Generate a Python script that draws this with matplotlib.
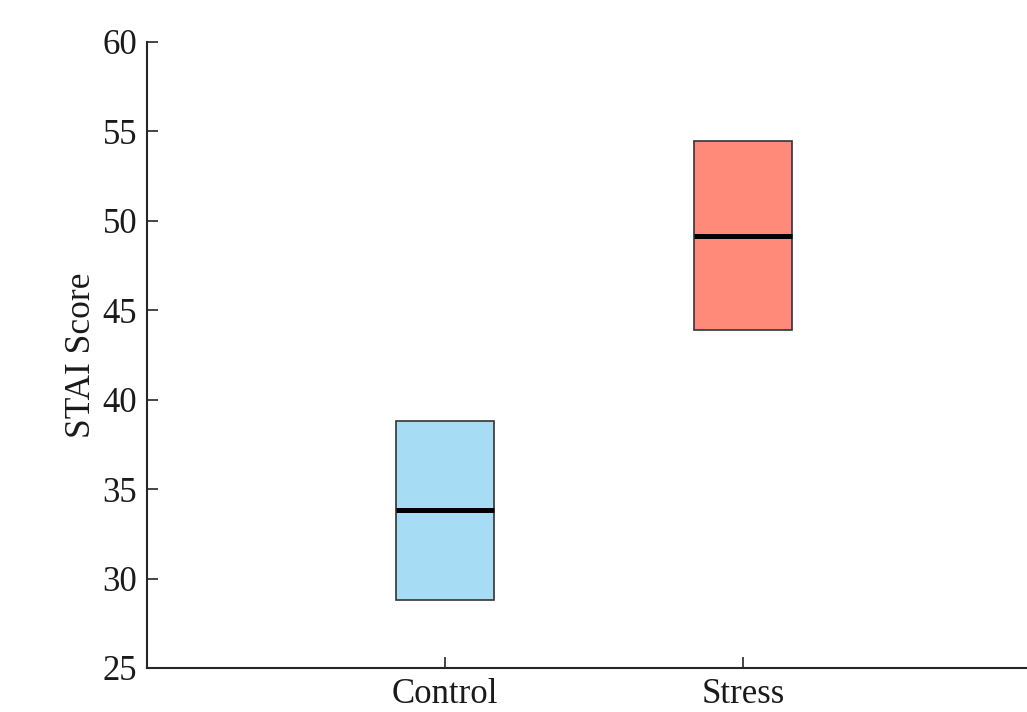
import matplotlib
matplotlib.use("Agg")
import matplotlib.pyplot as plt
from matplotlib.patches import Rectangle

groups = ["Control", "Stress"]
box_low = [28.8, 43.9]
box_high = [38.83, 54.48]
medians = [33.83, 49.17]
colors = ["#A6DDF5", "#FF8A7A"]

plt.rcParams["font.family"] = ["Liberation Serif", "DejaVu Serif"]

fig = plt.figure(figsize=(10.27, 7.12), dpi=100)
ax = fig.add_axes([147 / 1027, 44 / 712, 894 / 1027, 626 / 712])

width = 0.33
for i, g in enumerate(groups):
    x = i + 1
    ax.add_patch(Rectangle((x - width / 2, box_low[i]), width, box_high[i] - box_low[i],
                           facecolor=colors[i], edgecolor="#333333", linewidth=1.2, zorder=2))
    ax.plot([x - width / 2, x + width / 2], [medians[i], medians[i]],
            color="black", linewidth=3.6, solid_capstyle="butt", zorder=3)

ax.set_xlim(0, 3)
ax.set_ylim(25, 60)
ax.set_xticks([1, 2])
ax.set_xticklabels(groups)
ax.set_yticks(range(25, 61, 5))
ax.set_ylabel("STAI Score", fontsize=25.5, color="#1a1a1a", labelpad=3)
ax.tick_params(direction="in", length=8, width=1.2, colors="#262626", labelcolor="#1a1a1a",
               labelsize=25, pad=7)
for s in ["top", "right"]:
    ax.spines[s].set_visible(False)
for s in ["left", "bottom"]:
    ax.spines[s].set_linewidth(1.5)
    ax.spines[s].set_color("#262626")

fig.savefig("out.png", dpi=100)
